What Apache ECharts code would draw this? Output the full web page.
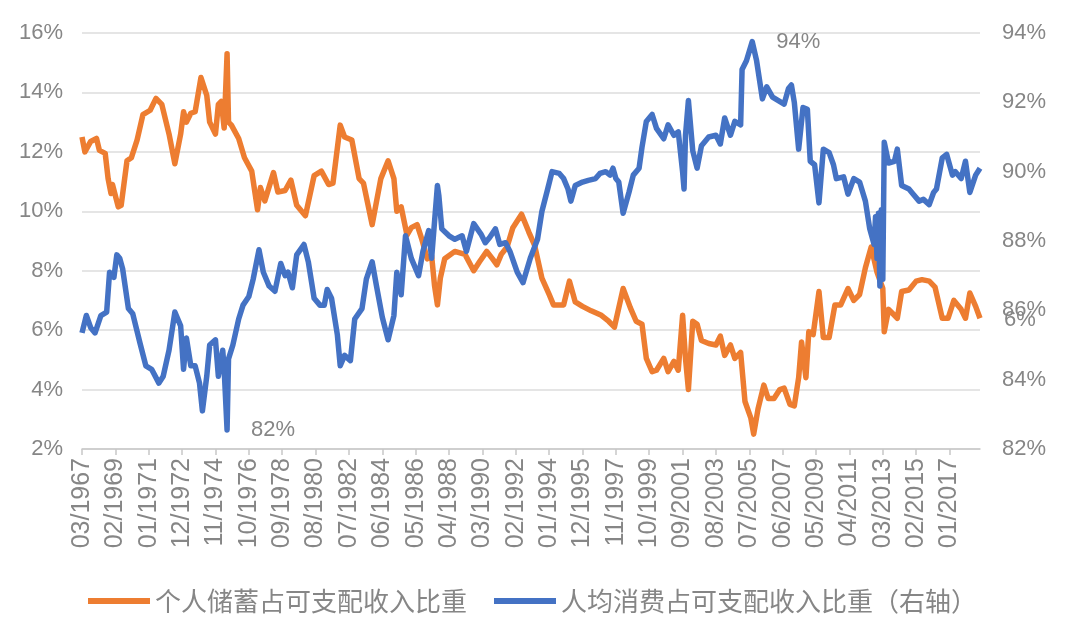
<!DOCTYPE html>
<html>
<head>
<meta charset="utf-8">
<script src="https://cdn.jsdelivr.net/npm/echarts@6/dist/echarts.min.js"></script>
<style>
html,body{margin:0;padding:0;background:#fff;}
#chart{width:1080px;height:628px;}
</style>
</head>
<body>
<div id="chart"></div>
<script>
// x-axis tick labels (every 23 months)
const tickLabels = ['03/1967','02/1969','01/1971','12/1972','11/1974','10/1976','09/1978','08/1980','07/1982','06/1984','05/1986','04/1988','03/1990','02/1992','01/1994','12/1995','11/1997','10/1999','09/2001','08/2003','07/2005','06/2007','05/2009','04/2011','03/2013','02/2015','01/2017'];
const firstMonth = '1967-03';
const lastMonth = '2018-10';
const seriesNames = ['个人储蓄占可支配收入比重', '人均消费占可支配收入比重（右轴）'];

// 个人储蓄占可支配收入比重 (%), left axis
const savings = [
['1967-03',12.5],['1967-05',12.0],['1967-09',12.35],['1968-01',12.45],['1968-03',12.05],['1968-07',11.95],
['1968-09',11.1],['1968-11',10.6],['1968-12',10.9],['1969-04',10.15],['1969-06',10.2],['1969-10',11.7],
['1970-01',11.8],['1970-05',12.4],['1970-09',13.25],['1971-02',13.4],['1971-06',13.8],['1971-10',13.6],
['1972-03',12.6],['1972-07',11.6],['1972-11',12.6],['1973-01',13.35],['1973-03',13.0],['1973-06',13.3],
['1973-09',13.35],['1974-01',14.5],['1974-05',13.9],['1974-07',13.0],['1974-11',12.6],['1975-01',13.6],
['1975-03',13.7],['1975-05',12.8],['1975-07',15.3],['1975-08',13.0],['1975-10',12.9],['1976-03',12.45],
['1976-07',11.8],['1976-12',11.35],['1977-04',10.05],['1977-06',10.8],['1977-09',10.35],['1978-03',11.3],
['1978-06',10.65],['1978-11',10.7],['1979-03',11.05],['1979-07',10.2],['1980-01',9.85],['1980-07',11.2],
['1980-12',11.35],['1981-05',10.9],['1981-08',10.95],['1982-01',12.9],['1982-04',12.5],['1982-09',12.4],
['1983-02',11.1],['1983-05',10.95],['1983-11',9.55],['1984-05',11.1],['1984-10',11.7],['1985-02',11.1],
['1985-04',10.0],['1985-07',10.15],['1985-11',9.2],['1986-02',9.45],['1986-06',9.55],['1986-09',9.1],
['1987-01',8.4],['1987-04',8.5],['1987-06',7.5],['1987-08',6.85],['1987-10',7.75],['1988-01',8.4],
['1988-08',8.65],['1989-03',8.55],['1989-09',8.0],['1990-01',8.3],['1990-06',8.65],['1990-10',8.4],
['1991-01',8.2],['1991-04',8.55],['1991-08',8.8],['1991-12',9.45],['1992-06',9.9],['1992-11',9.3],
['1993-03',8.85],['1993-08',7.75],['1994-01',7.2],['1994-04',6.85],['1994-11',6.85],['1995-03',7.65],
['1995-07',6.95],['1995-12',6.8],['1996-06',6.65],['1997-01',6.5],['1997-06',6.3],['1997-10',6.1],
['1998-01',6.75],['1998-04',7.4],['1998-09',6.75],['1999-01',6.3],['1999-05',6.2],['1999-08',5.05],
['1999-12',4.6],['2000-03',4.65],['2000-08',5.05],['2000-11',4.6],['2001-03',4.95],['2001-06',4.65],
['2001-09',6.5],['2001-11',5.05],['2002-01',4.0],['2002-04',6.3],['2002-07',6.2],['2002-10',5.65],
['2003-03',5.55],['2003-08',5.5],['2003-11',5.8],['2004-02',5.15],['2004-06',5.5],['2004-09',5.05],
['2005-01',5.25],['2005-04',3.6],['2005-08',3.05],['2005-10',2.5],['2006-01',3.35],['2006-05',4.15],
['2006-08',3.7],['2006-12',3.7],['2007-04',4.0],['2007-07',4.05],['2007-11',3.5],['2008-02',3.45],
['2008-05',4.4],['2008-07',5.6],['2008-10',4.4],['2008-12',5.95],['2009-03',5.85],['2009-07',7.3],
['2009-10',5.75],['2010-02',5.75],['2010-06',6.85],['2010-10',6.85],['2011-03',7.4],['2011-07',7.0],
['2011-11',7.2],['2012-03',8.1],['2012-07',8.8],['2012-11',7.95],['2013-03',7.4],['2013-04',5.95],
['2013-07',6.7],['2013-11',6.5],['2014-01',6.4],['2014-04',7.3],['2014-09',7.35],['2015-02',7.65],
['2015-06',7.7],['2015-11',7.65],['2016-03',7.45],['2016-08',6.4],['2016-12',6.4],['2017-04',7.0],
['2017-09',6.7],['2017-12',6.4],['2018-03',7.25],['2018-07',6.8],['2018-10',6.4]
];

// 人均消费占可支配收入比重 (%), right axis
const consumption = [
['1967-03',85.35],['1967-06',85.85],['1967-09',85.5],['1967-12',85.35],['1968-04',85.85],['1968-08',85.95],
['1968-10',87.1],['1969-01',86.95],['1969-03',87.6],['1969-05',87.5],['1969-07',87.2],['1969-11',86.05],
['1970-02',85.9],['1970-07',85.05],['1970-11',84.4],['1971-03',84.3],['1971-08',83.9],['1971-11',84.1],
['1972-03',84.85],['1972-07',85.95],['1972-11',85.55],['1973-01',84.3],['1973-03',85.2],['1973-06',84.4],
['1973-09',84.4],['1973-12',83.9],['1974-02',83.1],['1974-05',84.1],['1974-07',85.0],['1974-11',85.15],
['1975-01',84.1],['1975-04',84.85],['1975-05',84.3],['1975-07',82.55],['1975-08',84.6],['1975-11',85.0],
['1976-03',85.75],['1976-06',86.15],['1976-10',86.4],['1977-01',86.9],['1977-05',87.75],['1977-08',87.1],
['1977-12',86.7],['1978-04',86.55],['1978-08',87.35],['1978-11',87.0],['1979-01',87.1],['1979-04',86.65],
['1979-07',87.6],['1979-12',87.9],['1980-03',87.4],['1980-07',86.35],['1980-11',86.15],['1981-02',86.15],
['1981-04',86.6],['1981-07',86.35],['1981-11',85.3],['1982-01',84.4],['1982-04',84.7],['1982-08',84.55],
['1982-11',85.75],['1983-04',86.05],['1983-07',86.9],['1983-11',87.4],['1984-02',86.7],['1984-06',85.8],
['1984-10',85.15],['1985-02',85.85],['1985-04',87.1],['1985-07',86.45],['1985-10',88.15],['1986-02',87.5],
['1986-07',87.0],['1986-10',87.7],['1987-02',88.3],['1987-04',87.5],['1987-08',89.6],['1987-09',89.3],
['1987-11',88.35],['1988-04',88.15],['1988-08',88.05],['1989-01',88.15],['1989-04',87.7],['1989-09',88.5],
['1990-02',88.2],['1990-05',87.95],['1990-08',88.1],['1990-12',88.35],['1991-03',87.9],['1991-07',87.95],
['1991-10',87.7],['1992-03',87.1],['1992-07',86.8],['1992-12',87.5],['1993-05',88.05],['1993-08',88.85],
['1993-12',89.5],['1994-03',90.0],['1994-08',89.95],['1994-11',89.8],['1995-02',89.5],['1995-04',89.15],
['1995-07',89.6],['1995-12',89.7],['1996-04',89.75],['1996-09',89.8],['1996-12',89.95],['1997-04',90.0],
['1997-07',89.9],['1997-09',90.1],['1997-11',89.8],['1998-01',89.7],['1998-04',88.8],['1998-08',89.4],
['1998-11',89.9],['1999-03',90.1],['1999-05',90.7],['1999-08',91.45],['1999-12',91.65],['2000-03',91.25],
['2000-08',90.95],['2000-11',91.35],['2001-03',91.05],['2001-06',91.15],['2001-09',90.0],['2001-10',89.5],
['2001-11',91.05],['2002-01',92.05],['2002-04',90.6],['2002-07',90.1],['2002-10',90.75],['2003-03',91.0],
['2003-08',91.05],['2003-11',90.8],['2004-02',91.55],['2004-06',91.05],['2004-09',91.45],['2005-01',91.35],
['2005-02',92.95],['2005-05',93.2],['2005-09',93.75],['2005-12',93.2],['2006-04',92.1],['2006-07',92.45],
['2006-11',92.15],['2007-03',92.05],['2007-07',91.95],['2007-10',92.4],['2007-12',92.5],['2008-02',92.0],
['2008-05',90.65],['2008-08',91.85],['2008-11',91.8],['2009-01',90.3],['2009-04',90.2],['2009-07',89.1],
['2009-10',90.65],['2010-02',90.55],['2010-05',90.2],['2010-07',89.8],['2010-12',89.85],['2011-03',89.35],
['2011-07',89.8],['2011-11',89.7],['2012-03',89.15],['2012-06',88.35],['2012-09',87.9],['2012-10',88.7],
['2012-11',87.5],['2012-12',88.8],['2013-01',86.7],['2013-02',88.9],['2013-03',86.9],['2013-04',90.85],
['2013-07',90.25],['2013-11',90.3],['2014-01',90.65],['2014-04',89.6],['2014-09',89.5],['2014-12',89.35],
['2015-04',89.15],['2015-07',89.2],['2015-11',89.05],['2016-02',89.4],['2016-04',89.5],['2016-08',90.4],
['2016-11',90.5],['2017-03',89.9],['2017-05',90.0],['2017-09',89.8],['2017-12',90.3],['2018-03',89.4],
['2018-07',89.9],['2018-10',90.1]
];

function monthIndex(s) {
  const [y, m] = s.split('-').map(Number);
  const [y0, m0] = firstMonth.split('-').map(Number);
  return (y - y0) * 12 + (m - m0);
}
const toXY = arr => arr.map(d => [monthIndex(d[0]), d[1]]);

const grey = '#868686';
const chart = echarts.init(document.getElementById('chart'));
chart.setOption({
  animation: false,
  backgroundColor: '#ffffff',
  grid: { left: 82, right: 100, top: 33, bottom: 179 },
  legend: {
    left: 83, top: 583,
    icon: 'rect', itemWidth: 62, itemHeight: 6, itemGap: 27,
    textStyle: { color: grey, fontSize: 26, fontFamily: 'Noto Sans CJK SC' },
    data: seriesNames
  },
  xAxis: {
    type: 'value', min: 0, max: monthIndex(lastMonth), interval: 23,
    axisLine: { show: true, lineStyle: { color: '#c8c8c8', width: 1.5 } },
    axisTick: { show: true, length: 6, lineStyle: { color: '#c8c8c8', width: 1.5 } },
    splitLine: { show: false },
    axisLabel: {
      rotate: 90, color: grey, fontSize: 25, margin: 9, fontFamily: 'Liberation Sans',
      showMaxLabel: false,
      formatter: v => { const i = v / 23; return Number.isInteger(i) && i < tickLabels.length ? tickLabels[i] : ''; }
    }
  },
  yAxis: [
    {
      type: 'value', min: 2, max: 16, interval: 2,
      axisLine: { show: false }, axisTick: { show: false },
      splitLine: { lineStyle: { color: '#dcdcdc', width: 1.5 } },
      axisLabel: { color: grey, fontSize: 22, margin: 19, fontFamily: 'Liberation Sans', formatter: '{value}%' }
    },
    {
      type: 'value', min: 82, max: 94, interval: 2,
      axisLine: { show: false }, axisTick: { show: false },
      splitLine: { show: false },
      axisLabel: { color: grey, fontSize: 22, margin: 22, fontFamily: 'Liberation Sans', formatter: '{value}%' }
    }
  ],
  series: [
    {
      name: seriesNames[0], type: 'line', yAxisIndex: 0, showSymbol: false, symbol: 'none',
      itemStyle: { color: '#ED7D31' },
      lineStyle: { color: '#ED7D31', width: 5.5, join: 'round' },
      data: toXY(savings)
    },
    {
      name: seriesNames[1], type: 'line', yAxisIndex: 1, showSymbol: false, symbol: 'none',
      itemStyle: { color: '#4472C4' },
      lineStyle: { color: '#4472C4', width: 5.5, join: 'round' },
      data: toXY(consumption),
      markPoint: {
        symbol: 'circle', symbolSize: 0,
        label: { show: true, position: 'right', distance: 24, color: grey, fontSize: 22, fontFamily: 'Liberation Sans', formatter: '{b}' },
        data: [ { type: 'min', name: '82%' }, { type: 'max', name: '94%' } ]
      }
    }
  ],
  graphic: [
    { type: 'text', left: 1004, top: 309, style: { text: '6%', fill: grey, font: '22px "Liberation Sans"' } }
  ]
});
</script>
</body>
</html>
